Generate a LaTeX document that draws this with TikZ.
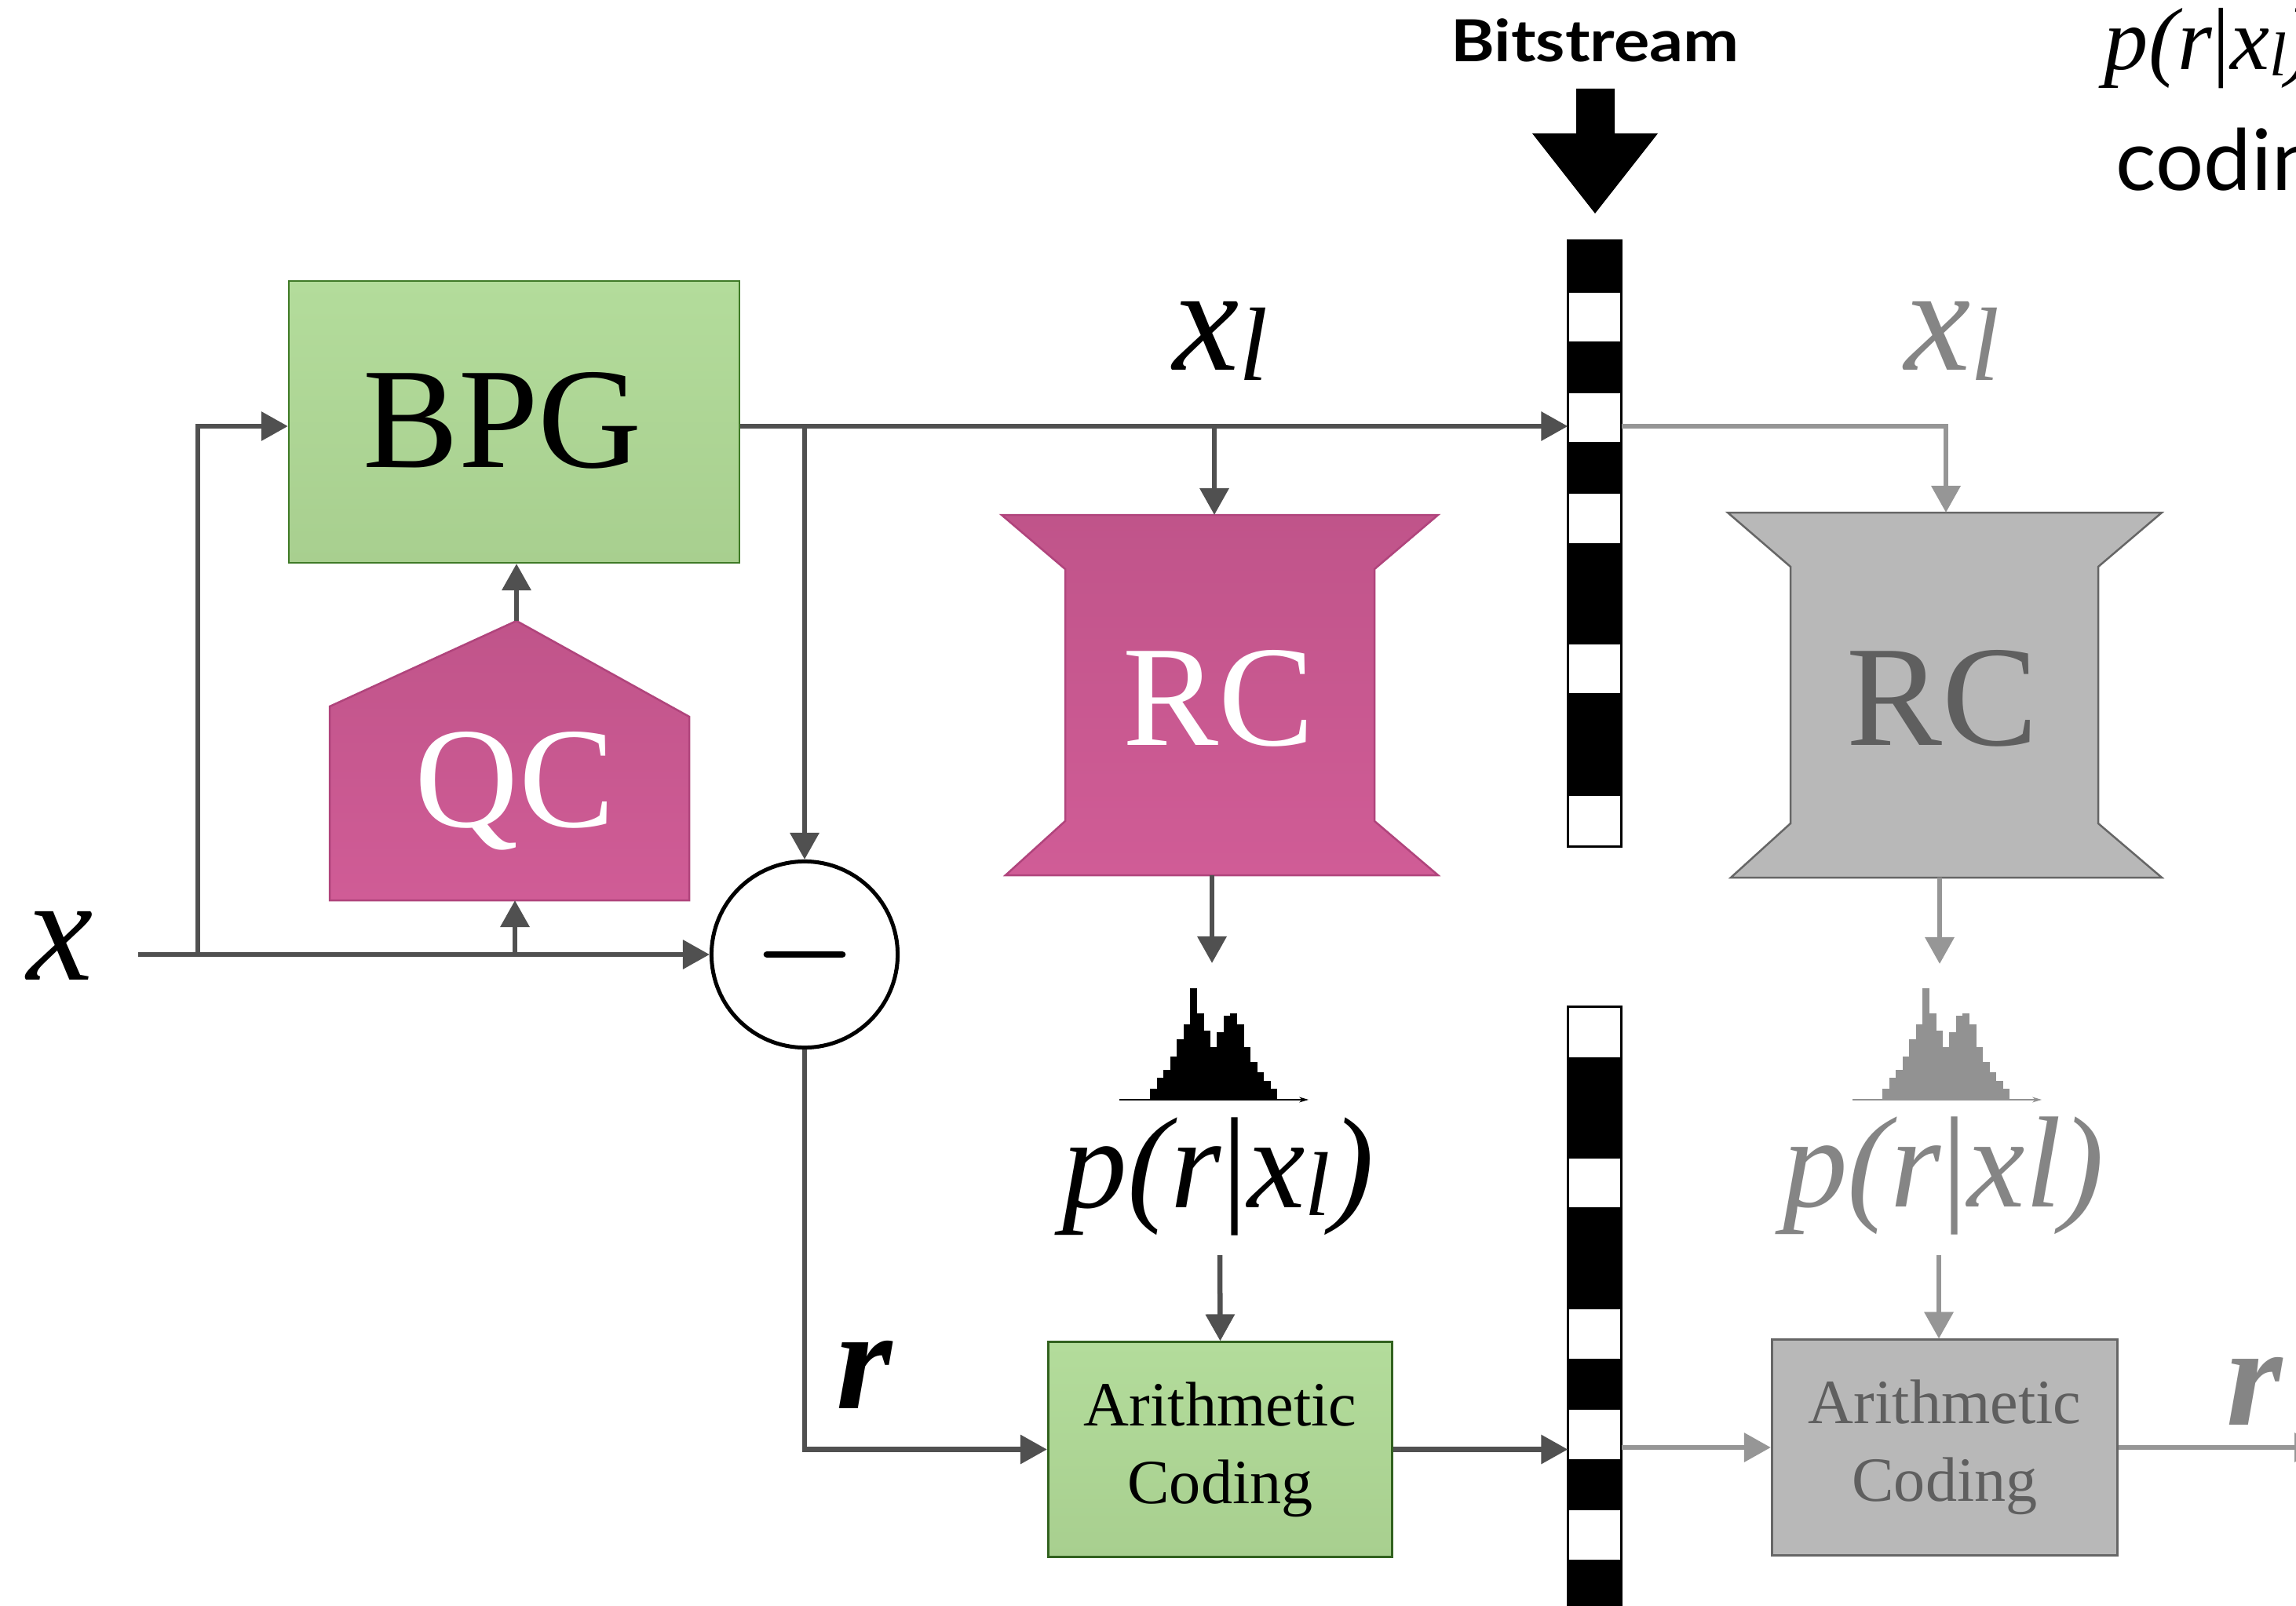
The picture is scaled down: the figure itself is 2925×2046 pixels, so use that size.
\documentclass[tikz,border=0pt]{standalone}
\usepackage{fontspec}
\usepackage{graphicx}
\setmainfont{Liberation Serif}[ItalicFont={Liberation Serif Italic}, BoldFont={Liberation Serif Bold}, BoldItalicFont={Liberation Serif Bold Italic}]
\newfontfamily\bitfont{Lato}
\newfontfamily\codfont{Lato}
\usetikzlibrary{arrows.meta}
\definecolor{lineD}{HTML}{505050}
\definecolor{lineG}{HTML}{969696}
\definecolor{grnT}{HTML}{B3DC9B}
\definecolor{grnB}{HTML}{A8CF8F}
\definecolor{grnE}{HTML}{3F7A27}
\definecolor{pnkT}{HTML}{C0548A}
\definecolor{pnkB}{HTML}{D05C96}
\definecolor{pnkE}{HTML}{B0447C}
\definecolor{gryF}{HTML}{B8B8B8}
\definecolor{gryE}{HTML}{666666}
\definecolor{gryT}{HTML}{5F5F5F}
\definecolor{gryL}{HTML}{858585}
\definecolor{gryH}{HTML}{929292}
\newcommand\pfs[2]{\fontsize{#1}{#2}\selectfont}
\newcommand\lsub[1]{\raisebox{-0.065em}{\scalebox{0.7}{\itshape #1}}}
\begin{document}
\begin{tikzpicture}[x=0.01cm,y=-0.01cm,
  grnbox/.style={rectangle, inner sep=0pt, top color=grnT, bottom color=grnB, draw=grnE, line width=0.02cm},
  gbox/.style={rectangle, inner sep=0pt, fill=gryF, draw=gryE, line width=0.03cm},
  darr/.style={draw=lineD, line width=0.065cm, -{Triangle[length=0.34cm,width=0.36cm]}},
  garr/.style={draw=lineG, line width=0.065cm, -{Triangle[length=0.34cm,width=0.36cm]}},
  bigT/.style={font=\pfs{52}{60}, inner sep=0pt},
  itl/.style={font=\pfs{54}{60}\itshape, inner sep=0pt},
  acT/.style={font=\pfs{22.8}{28.2}, align=center, inner sep=0pt},
  bitbar/.style={rectangle, inner sep=0pt, fill=white, minimum width=0.67cm}
]
\useasboundingbox (0,0) rectangle (2925,2046);
\clip (0,0) rectangle (2925,2046);
\fill[white] (0,0) rectangle (2925,2046);

% ---------- BPG ----------
\node[grnbox, minimum width=5.74cm, minimum height=3.59cm] (BPG) at (655,537.5) {};
\node[bigT, anchor=base] (bpgT) at (640,596) {BPG};

% ---------- QC ----------
\path[top color=pnkT, bottom color=pnkB, draw=pnkE, line width=0.025cm]
  (420,900) -- (658,791) -- (878,913) -- (878,1147) -- (420,1147) -- cycle;
\coordinate (qcN) at (658,791);
\coordinate (qcS) at (656,1147);
\node[bigT, anchor=base, text=white] (qcT) at (656,1053) {QC};

% ---------- subtract ----------
\node[circle, draw=black, line width=0.05cm, minimum size=2.37cm, inner sep=0pt] (sub) at (1025,1216) {};
\draw[line width=0.087cm, line cap=round] (sub.center) ++(-48,0) -- ++(96,0);

% ---------- RC (pink) ----------
\path[top color=pnkT, bottom color=pnkB, draw=pnkE, line width=0.025cm]
  (1276,656) -- (1832,656) -- (1751,725) -- (1751,1046) -- (1832,1115) -- (1281,1115)
  -- (1357,1046) -- (1357,725) -- cycle;
\coordinate (rcN) at (1547,656);
\coordinate (rcS) at (1544,1115);
\node[bigT, anchor=base, text=white] (rcT) at (1552,949) {RC};

% ---------- RC (gray) ----------
\path[fill=gryF, draw=gryE, line width=0.025cm]
  (2201,653) -- (2754,653) -- (2673,722) -- (2673,1049) -- (2754,1118) -- (2205,1118)
  -- (2281,1049) -- (2281,722) -- cycle;
\coordinate (grcN) at (2479,653);
\coordinate (grcS) at (2471,1118);
\node[bigT, anchor=base, text=gryT] (grcT) at (2474,949) {RC};

% ---------- Arithmetic coding boxes ----------
\node[grnbox, draw=grnE!80!black, line width=0.03cm, minimum width=4.38cm, minimum height=2.73cm] (AC) at (1554.5,1846.5) {};
\node[acT] (acT1) at (AC.center) {Arithmetic\\Coding};
\node[gbox, minimum width=4.40cm, minimum height=2.74cm] (gAC) at (2477.5,1844) {};
\node[acT, text=gryT] (acT2) at (gAC.center) {Arithmetic\\Coding};

% ---------- Bitstream ----------
\node[bitbar, minimum height=7.71cm] (bitU) at (2031.5,692.5) {};
\node[bitbar, minimum height=8.27cm] (bitL) at (2031.5,1696.5) {};
\foreach \a/\b in {307/373, 435/501, 563/629, 692/821, 883/1014}
  \fill[black] (1998,\a) rectangle (2065,\b);
\foreach \a/\b in {1347/1476, 1538/1668, 1731/1796, 1859/1924, 1987/2110}
  \fill[black] (1998,\a) rectangle (2065,\b);
\draw[line width=0.03cm] (bitU.north west) rectangle (bitU.south east);
\draw[line width=0.03cm] (bitL.north west) rectangle (bitL.south east);
\node[font=\bitfont\bfseries\pfs{21}{24}, anchor=base, inner sep=0pt] (bitT) at (2032,79) {\scalebox{1.15}[1]{Bitstream}};
\fill[black] (2008,113) -- (2057,113) -- (2057,170) -- (2112,170) -- (2032,272)
  -- (1952,170) -- (2008,170) -- cycle;

% ---------- histograms ----------
\foreach \h [count=\i from 0] in {14,28,38,55,77,96,142,110,88,67,86,107,110,96,67,48,35,24,14}
  \fill[black] ({1465+\i*8.53},1402) rectangle ++(8.8,-\h-1);
\draw[black, line width=0.012cm, -{Stealth[length=0.12cm,width=0.07cm]}] (1426,1401) -- (1667,1401);
\foreach \h [count=\i from 0] in {14,28,38,55,77,96,142,110,88,67,86,107,110,96,67,48,35,24,14}
  \fill[gryH] ({2398+\i*8.53},1402) rectangle ++(8.8,-\h-1);
\draw[gryH, line width=0.012cm, -{Stealth[length=0.12cm,width=0.07cm]}] (2360,1401) -- (2601,1401);
\coordinate (h1) at (1544,1227);
\coordinate (h2) at (2471,1228);

% ---------- labels ----------
\node[itl, anchor=base] (xin) at (77,1248) {x};
\node[itl, anchor=base] (xl1) at (1555,472) {x\lsub{l}};
\node[itl, anchor=base, text=gryL] (xl2) at (2487,472) {x\lsub{l}};
\node[font=\pfs{47}{55}, anchor=base, inner sep=0pt] (p1) at (1552,1538) {\itshape p(r\textup{|}x\lsub{l})};
\node[font=\pfs{47}{55}, anchor=base, inner sep=0pt, text=gryL] (p2) at (2476,1537) {\itshape p(r\textup{|}xl)};
\coordinate (p1b) at (1554,1599);
\coordinate (p2b) at (2470,1599);
\node[font=\pfs{52}{60}\bfseries\itshape, anchor=base, inner sep=0pt] (r1) at (1101,1794) {r};
\node[font=\pfs{52}{60}\bfseries\itshape, anchor=base, inner sep=0pt, text=gryL] (r2) at (2872,1815) {r};
\node[font=\pfs{32}{38}, anchor=base west, inner sep=0pt] (ptr) at (2680,89) {\itshape p(r\textup{|}x\lsub{l})};
\node[font=\codfont\pfs{30.7}{36}, anchor=base west, inner sep=0pt] (cod) at (2695,243) {coding};

% ---------- connectors ----------
\coordinate (xs) at (176,1216);
\coordinate (xb) at (252,1216);
\coordinate (J0) at ([yshift=-0.055cm]BPG.east);
\coordinate (J1) at ([yshift=-0.055cm]BPG.west);
\coordinate (rout) at (2957,1844);

\draw[darr] (xs) -- (sub.west);
\draw[darr] (xb) |- (J1);
\draw[darr] (qcS |- xs) -- (qcS);
\draw[darr] (qcN) -- (qcN |- BPG.south);
\draw[darr] (J0) -- (J0 -| bitU.west);
\draw[darr] (J0 -| sub.north) -- (sub.north);
\draw[darr] (J0 -| rcN) -- (rcN);
\draw[garr] (J0 -| bitU.east) -| (grcN);
\draw[darr] (rcS) -- (h1);
\draw[garr] (grcS) -- (h2);
\draw[darr] (p1b) -- (AC.north);
\draw[garr] (p2b) -- (p2b |- gAC.north);
\draw[darr] (sub.south) |- (AC.west);
\draw[darr] (AC.east) -- (AC.east -| bitL.west);
\draw[garr] (gAC.west -| bitL.east) -- (gAC.west);
\draw[garr] (gAC.east) -- (rout);
\end{tikzpicture}
\end{document}
